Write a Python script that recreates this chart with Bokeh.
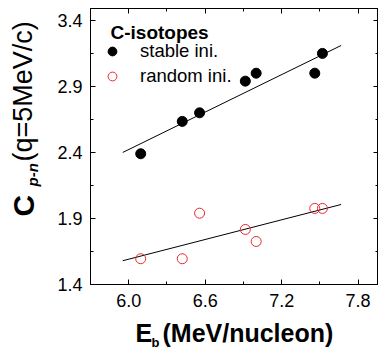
from bokeh.plotting import figure
from bokeh.layouts import column, row
from bokeh.models import (Range1d, FixedTicker, LinearAxis, Label, Legend,
                          LegendItem, NumeralTickFormatter, CustomJSTickFormatter)
from bokeh.embed import file_html
from bokeh.resources import INLINE

# ---- data ----
eb_stable = [6.094, 6.42, 6.556, 6.915, 7.0, 7.46, 7.52]
c_stable = [2.39, 2.635, 2.70, 2.94, 3.0, 3.0, 3.15]
eb_random = [6.094, 6.42, 6.556, 6.915, 7.0, 7.46, 7.52]
c_random = [1.595, 1.595, 1.94, 1.817, 1.726, 1.976, 1.976]
fit_x = [5.953, 7.667]
fit_stable = [2.40, 3.21]
fit_random = [1.58, 2.006]

xticks = [6.0, 6.6, 7.2, 7.8]
xtick_labels = ["6.0", "6.6", "7.2", "7.8"]
xminor = [6.3, 6.9, 7.5]
yticks = [1.4, 1.9, 2.4, 2.9, 3.4]
ytick_labels = ["1.4", "1.9", "2.4", "2.9", "3.4"]
yminor = [1.65, 2.15, 2.65, 3.15]

legend_title = "C-isotopes"
series_names = ["stable ini.", "random ini."]

RED = "#e8292f"
FONT = "Liberation Sans"

YW = 44          # width of the y-label strip
MAIN_H = 316     # height of the main figure
XH = 34          # height of the x-label strip

p = figure(frame_width=288, frame_height=276,
           x_range=Range1d(5.7, 7.96), y_range=Range1d(1.4, 3.49),
           output_backend="svg", toolbar_location=None,
           min_border_left=46, min_border_right=0, min_border_top=8,
           min_border_bottom=32, x_axis_label=None, y_axis_label=None)
p.grid.visible = False
p.outline_line_color = "black"

p.add_layout(LinearAxis(), "above")
p.add_layout(LinearAxis(), "right")


def style(ax, ticks, minor, labels, show):
    ax.ticker = FixedTicker(ticks=ticks, minor_ticks=minor)
    ax.major_tick_in = 5
    ax.major_tick_out = 0
    ax.minor_tick_in = 3
    ax.minor_tick_out = 0
    ax.axis_line_color = "black"
    ax.major_tick_line_color = "black"
    ax.minor_tick_line_color = "black"
    ax.axis_label = None
    if show:
        ax.formatter = NumeralTickFormatter(format="0.0")
        ax.major_label_overrides = dict(zip(ticks, labels))
        ax.major_label_text_font = FONT
        ax.major_label_text_font_size = "18px"
        ax.major_label_text_color = "black"
    else:
        ax.formatter = CustomJSTickFormatter(code="return ''")
        ax.major_label_text_font_size = "1px"
        ax.major_label_standoff = 0


style(p.below[0], xticks, xminor, xtick_labels, True)
p.below[0].major_label_standoff = 9
style(p.left[0], yticks, yminor, ytick_labels, True)
p.left[0].major_label_standoff = 8
style(p.above[0], xticks, xminor, xtick_labels, False)
style(p.right[0], yticks, yminor, ytick_labels, False)

# fit lines
p.line(fit_x, fit_stable, line_color="black", line_width=1)
p.line(fit_x, fit_random, line_color="black", line_width=1)

r1 = p.scatter(eb_stable, c_stable, size=10, marker="circle",
               fill_color="black", line_color="black")
r2 = p.scatter(eb_random, c_random, size=10, marker="circle",
               fill_color=None, line_color=RED, line_width=1)

legend = Legend(items=[LegendItem(label=series_names[0], renderers=[r1]),
                       LegendItem(label=series_names[1], renderers=[r2])],
                location=(11, 197), padding=0, margin=0, spacing=3,
                glyph_width=22, glyph_height=22, label_height=22,
                label_standoff=17, label_text_font=FONT,
                label_text_font_size="18.5px", label_text_color="black",
                background_fill_alpha=0, border_line_alpha=0)
p.add_layout(legend)

p.add_layout(Label(x=20, y=252, x_units="screen", y_units="screen",
                   text=legend_title, text_font=FONT, text_font_size="19px",
                   text_font_style="bold", text_color="black",
                   text_baseline="alphabetic"))


def strip(w, h):
    f = figure(width=w, height=h, x_range=Range1d(0, 1), y_range=Range1d(0, 1),
               x_axis_type=None, y_axis_type=None, output_backend="svg",
               toolbar_location=None, min_border=0)
    f.grid.visible = False
    f.outline_line_color = None
    return f


# y-axis label strip: C_p-n (q=5MeV/c)
yfig = strip(YW, MAIN_H)
for txt, x, y, size, style_ in [("C", 23, 68, "30px", "bold"),
                                ("p-n", 32, 98, "15px", "bold italic"),
                                ("(q=5MeV/c)", 22, 123, "27px", "normal")]:
    yfig.add_layout(Label(x=x, y=y, x_units="screen", y_units="screen",
                          text=txt, text_font=FONT, text_font_size=size,
                          text_font_style=style_, text_color="black",
                          text_baseline="alphabetic", angle=90,
                          angle_units="deg"))

# x-axis label strip: E_b (MeV/nucleon)
xfig = strip(YW + 335, XH)
for txt, x, y, size in [("E", 135, 18, "25px"),
                        ("b", 151, 8, "13px"),
                        ("(MeV/nucleon)", 162, 18, "25px")]:
    xfig.add_layout(Label(x=x, y=y, x_units="screen", y_units="screen",
                          text=txt, text_font=FONT, text_font_size=size,
                          text_font_style="bold", text_color="black",
                          text_baseline="alphabetic"))

layout = column(row(yfig, p, spacing=0), xfig, spacing=0)
open("out.html", "w").write(file_html(layout, INLINE))
